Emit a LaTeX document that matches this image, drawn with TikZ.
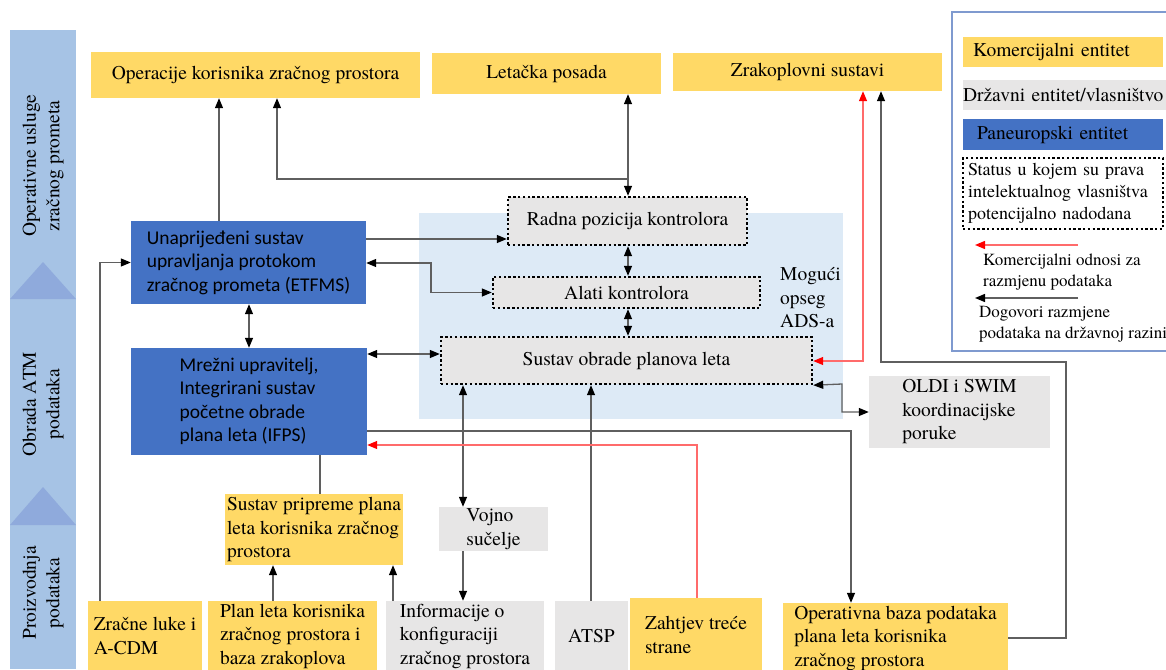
\documentclass[tikz,border=0pt]{standalone}
\usepackage{fontspec}
\setmainfont{texgyretermes}[Extension=.otf, UprightFont=*-regular, BoldFont=*-bold,
  ItalicFont=*-italic, BoldItalicFont=*-bolditalic]
\newfontfamily\timesfont{texgyretermes}[Extension=.otf, UprightFont=*-regular, BoldFont=*-bold,
  ItalicFont=*-italic, BoldItalicFont=*-bolditalic]
\newfontfamily\calfont{Carlito}
\usepackage{tikz}
\usetikzlibrary{arrows.meta}

\definecolor{komyellow}{HTML}{FFD966}
\definecolor{drzgray}{HTML}{E7E6E6}
\definecolor{panblue}{HTML}{4472C4}
\definecolor{adsbg}{HTML}{DDEAF6}
\definecolor{barblue}{HTML}{A6C3E5}
\definecolor{triblue}{HTML}{8FAADC}
\definecolor{linegray}{HTML}{5F5F5F}
\definecolor{redline}{HTML}{FF6B6B}
\definecolor{legborder}{HTML}{7F9ACF}

\begin{document}
\begin{tikzpicture}[x=1pt,y=-1pt,
    >={Triangle[length=10pt,width=8pt,color=black]},
    every node/.style={font=\timesfont\fontsize{19.5}{23.5}\selectfont},
    kom/.style={fill=komyellow, inner xsep=1pt, inner ysep=1pt, align=left},
    drz/.style={fill=drzgray, inner xsep=1pt, inner ysep=1pt, align=left},
    pan/.style={fill=panblue, inner xsep=1pt, inner ysep=1pt, align=left,
        font=\calfont\fontsize{19.5}{23.5}\selectfont},
    pravo/.style={draw=black, line width=2.4pt, dash pattern=on 2.4pt off 2.4pt},
    conn/.style={draw=linegray, line width=1.3pt},
    redconn/.style={draw=redline, line width=1.3pt,
        >={Triangle[length=10pt,width=8pt,color=red]}},
    legtext/.style={font=\timesfont\fontsize{17}{21.5}\selectfont, align=left, inner sep=0pt}
  ]
  \useasboundingbox (0,0) rectangle (1166,669);
  \clip (0,0) rectangle (1166,669);

  % lanes on the left
  \fill[barblue] (10,30) rectangle (76,669);
  \fill[triblue] (43,262) -- (76,299) -- (10,299) -- cycle;
  \fill[triblue] (43,487) -- (76,525) -- (10,525) -- cycle;
  \node[rotate=90, align=center] (lane1) at (43,166) {Operativne usluge\\zračnog prometa};
  \node[rotate=90, align=center] (lane2) at (43,404) {Obrada ATM\\podataka};
  \node[rotate=90, align=center] (lane3) at (43,593) {Proizvodnja\\podataka};

  % ADS area
  \fill[adsbg] (419,213) rectangle (843,419);
  \node[anchor=west, align=left, inner sep=0pt] (ads) at (780,298) {Mogući\\opseg\\ADS-a};

  % top row
  \node[kom, minimum width=329pt, minimum height=46pt] (opk) at (255.5,75) {Operacije korisnika zračnog prostora};
  \node[kom, minimum width=229pt, minimum height=41pt] (posada) at (546.5,73.5) {Letačka posada};
  \node[kom, minimum width=269pt, minimum height=38pt] (zrak) at (807.5,72) {Zrakoplovni sustavi};

  % middle
  \node[pan, minimum width=235pt, minimum height=83pt] (etfms) at (248.5,262.5)
    {Unaprijeđeni sustav\\upravljanja protokom\\zračnog prometa (ETFMS)};
  \node[pan, minimum width=236pt, minimum height=107pt] (ifps) at (249,401.5)
    {Mrežni upravitelj,\\Integrirani sustav\\početne obrade\\plana leta (IFPS)};
  \node[drz, pravo, minimum width=239pt, minimum height=48pt] (radna) at (627.5,221) {Radna pozicija kontrolora};
  \node[drz, pravo, minimum width=267pt, minimum height=31pt] (alati) at (626.5,292.5) {Alati kontrolora};
  \node[drz, pravo, minimum width=371pt, minimum height=47pt] (obrada) at (626.5,360.5) {Sustav obrade planova leta};
  \node[drz, minimum width=181pt, minimum height=72pt] (oldi) at (959.5,412) {OLDI i SWIM\\koordinacijske\\poruke};
  \node[drz, minimum width=109pt, minimum height=44pt] (vojno) at (493.5,529) {Vojno\\sučelje};
  \node[kom, minimum width=178pt, minimum height=71pt] (priprema) at (314,529.5)
    {Sustav pripreme plana\\leta korisnika zračnog\\prostora};

  % bottom row
  \node[kom, minimum width=114pt, minimum height=70pt] (luke) at (145,636) {Zračne luke i\\A-CDM};
  \node[kom, minimum width=169pt, minimum height=70pt] (planleta) at (292.5,636)
    {Plan leta korisnika\\zračnog prostora i\\baza zrakoplova};
  \node[drz, minimum width=158pt, minimum height=70pt] (info) at (465,636)
    {Informacije o\\konfiguraciji\\zračnog prostora};
  \node[drz, minimum width=73pt, minimum height=70pt] (atsp) at (591.5,636) {ATSP};
  \node[kom, minimum width=132pt, minimum height=74pt] (zahtjev) at (696,635) {Zahtjev treće\\strane};
  \node[kom, minimum width=225pt, minimum height=70pt] (baza) at (895.5,638)
    {Operativna baza podataka\\plana leta korisnika\\zračnog prostora};

  % legend
  \draw[legborder, line width=1.2pt] (952,12) rectangle (1190,351);
  \node[kom, minimum width=200pt, minimum height=30pt, text width=180pt, inner xsep=10pt] (lkom) at (1063,52) {Komercijalni entitet};
  \node[drz, minimum width=200pt, minimum height=30pt, text width=204pt, inner xsep=0pt] (ldrz) at (1065,95) {Državni entitet/vlasništvo};
  \node[pan, font=\timesfont\fontsize{19.5}{23.5}\selectfont, minimum width=200pt, minimum height=31pt, text width=172pt, inner xsep=14pt] (lpan) at (1063,134.5) {Paneuropski entitet};
  \node[pravo, font=\timesfont\fontsize{18}{22}\selectfont, align=left, minimum width=200pt, minimum height=71pt, text width=190pt, inner xsep=5pt] (lpravo) at (1063,193.5)
    {Status u kojem su prava\\intelektualnog vlasništva\\potencijalno nadodana};
  \coordinate (lr1) at (1078,245);
  \coordinate (lr2) at (975,245);
  \coordinate (lb1) at (1078,298);
  \coordinate (lb2) at (975,298);
  \draw[redconn,->] (lr1) -- (lr2);
  \draw[conn,->] (lb1) -- (lb2);
  \node[legtext, anchor=west] (lred) at (983,272) {Komercijalni odnosi za\\razmjenu podataka};
  \node[legtext, anchor=west] (lblack) at (979,324) {Dogovori razmjene\\podataka na državnoj razini};

  % connectors
  \coordinate (j1) at (628,179);
  \draw[conn,->] (etfms.north -| 219,0) -- (opk.south -| 219,0);
  \draw[conn,<->] (posada.south -| j1) -- (radna.north -| j1);
  \draw[conn,->] (j1) -| (opk.south -| 277,0);
  \draw[conn,->] (etfms.east |- 0,239) -- (radna.west |- 0,239);
  \draw[conn,<->] (etfms.east |- 0,263) -- (431,263) |- (alati.west);
  \draw[conn,<->] (etfms.south -| 249,0) -- (ifps.north -| 249,0);
  \draw[conn,<->] (ifps.east |- 0,354) -- (obrada.west |- 0,354);
  \draw[conn,<->] (radna.south -| j1) -- (alati.north -| j1);
  \draw[conn,<->] (alati.south -| j1) -- (obrada.north -| j1);
  \draw[conn,<->] (obrada.south -| 463,0) -- (vojno.north -| 463,0);
  \draw[conn,->] (vojno.south -| 463,0) -- (info.north -| 463,0);
  \draw[conn,->] (atsp.north -| 591,0) -- (obrada.south -| 591,0);
  \draw[conn,->] (ifps.east |- 0,431) -| (baza.north -| 851,0);
  \draw[redconn,->] (zahtjev.north -| 697,0) |- (ifps.east |- 0,445);
  \draw[redconn,<->] (obrada.east |- 0,361) -| (zrak.south -| 863,0);
  \draw[conn,->] (baza.east) -| (1066,362) -| (zrak.south -| 881,0);
  \draw[conn,<->] (obrada.south east) -- (842,384) |- (oldi.west);
  \draw[conn] (ifps.south -| 320,0) -- (priprema.north -| 320,0);
  \draw[conn,->] (planleta.north -| 273,0) -- (priprema.south -| 273,0);
  \draw[conn,->] (info.north -| 393,0) -- (priprema.south -| 393,0);
  \draw[conn,->] (luke.north -| 100,0) |- (etfms.west);
\end{tikzpicture}
\end{document}
